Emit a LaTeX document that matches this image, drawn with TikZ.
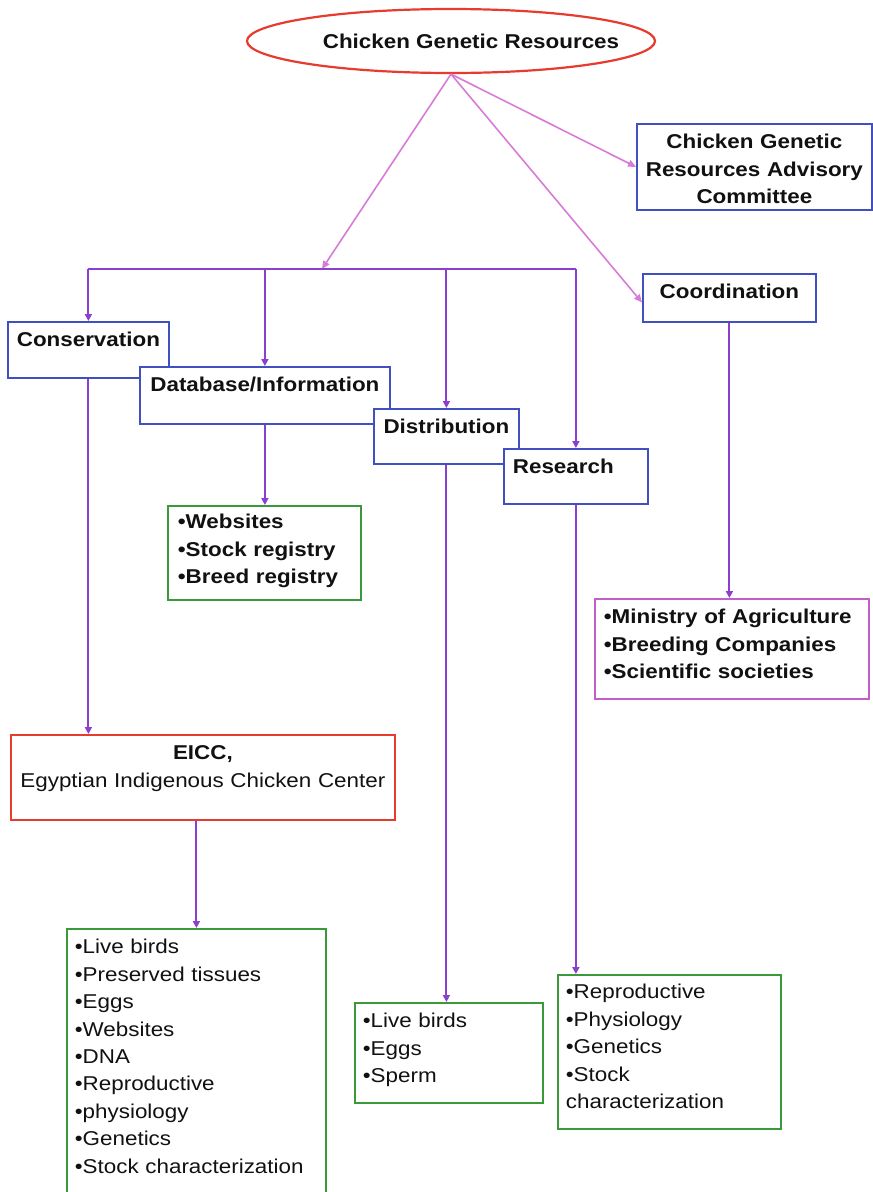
\documentclass[tikz,border=0pt]{standalone}
\usepackage{fontspec}
\setmainfont{Liberation Sans}[FakeStretch=1.12]
\usepackage{tikz}
\usetikzlibrary{
  arrows.meta,
  shapes.geometric
}
\definecolor{ink}{HTML}{111111}
\definecolor{rootred}{HTML}{E63B2E}
\definecolor{unitblue}{HTML}{4050C0}
\definecolor{listgreen}{HTML}{3A9A3A}
\definecolor{orchid}{HTML}{D77BD7}
\definecolor{violet}{HTML}{8B3FCF}
\definecolor{plum}{HTML}{C45CC9}
\newcommand{\boxfont}{\fontsize{20pt}{27.4pt}\selectfont}
\newcommand{\itm}{\textbullet}
\tikzset{
  spread/.style={
    -{Triangle[length=8pt,width=7pt]},
    line width=1.6pt,
    draw=orchid
  },
  branch/.style={
    line width=2pt,
    draw=violet
  },
  drop/.style={
    branch,
    -{Triangle[length=7pt,width=7pt]}
  },
  root/.style={
    ellipse,
    draw=rootred,
    line width=2.2pt,
    minimum width=408pt,
    minimum height=64pt,
    inner sep=0pt,
    text=ink,
    font=\boxfont\bfseries
  },
  cell/.style={
    draw,
    fill=white,
    line width=1.8pt,
    anchor=north west,
    inner ysep=0pt,
    inner xsep=4pt,
    text=ink,
    font=\boxfont
  },
  unit/.style={
    cell,
    draw=unitblue,
    font=\boxfont\bfseries,
    align=center,
    text height=25pt
  },
  items/.style={
    cell,
    draw=listgreen,
    inner xsep=8pt,
    align=left,
    text height=25pt
  }
}

\begin{document}
\begin{tikzpicture}[x=1pt, y=-1pt]
  \useasboundingbox (0,0) rectangle (873,1192);

  % top of the chart
  \node[root] (cgr) at (451,41) {\makebox[0pt]{\hspace*{40pt}Chicken Genetic Resources}};
  \node[unit, text width=227pt, text depth=61pt] (adv) at (636,123)
    {Chicken Genetic\\Resources Advisory\\Committee};
  \node[unit, text width=165pt, text depth=23pt] (coord) at (642,273) {Coordination};

  % the four units, each one lying over the one before
  \node[unit, text width=153pt, text depth=31pt] (cons) at (7,321) {Conservation};
  \node[unit, text width=246pt, inner xsep=2pt, text depth=32pt] (db) at (139,366) {Database/Information};
  \node[unit, text width=137pt, text depth=30pt] (dist) at (373,408) {Distribution};
  \node[unit, text width=126pt, inner xsep=9pt, align=left, text depth=30pt] (res) at (503,448) {Research};

  \node[items, font=\boxfont\bfseries, text width=173pt, inner xsep=10pt, text height=23pt, text depth=71pt] (web) at (167,505)
    {\itm Websites\\\itm Stock registry\\\itm Breed registry};
  \node[items, draw=plum, font=\boxfont\bfseries, text width=256pt, inner xsep=9pt, text depth=75pt] (min) at (594,598)
    {\itm Ministry of Agriculture\\\itm Breeding Companies\\\itm Scientific societies};
  \node[cell, draw=rootred, align=center, text width=376pt, text height=25pt, text depth=60pt] (eicc) at (10,734)
    {\textbf{EICC,}\\Egyptian Indigenous Chicken Center};

  % what each unit holds
  \node[items, text width=243pt, text depth=272pt] (conslist) at (66,928)
    {\itm Live birds\\\itm Preserved tissues\\\itm Eggs\\\itm Websites\\\itm DNA\\\itm Reproductive\\\itm physiology\\\itm Genetics\\\itm Stock characterization};
  \node[items, text width=172pt, text depth=75pt] (distlist) at (354,1002)
    {\itm Live birds\\\itm Eggs\\\itm Sperm};
  \node[items, text width=207pt, text height=24pt, text depth=130pt] (reslist) at (557,974)
    {\itm Reproductive\\\itm Physiology\\\itm Genetics\\\itm Stock\\characterization};

  % from the centre outwards
  \coordinate (hub) at (322,269);
  \draw[spread] (cgr.south) -- (hub);
  \draw[spread] (cgr.south) -- (adv.west);
  \draw[spread] (cgr.south) -- (coord.183);

  \draw[branch] (cons.north |- hub) -- (res.north |- hub);
  \foreach \n in {cons, db, dist, res}
    \draw[drop] (\n.north |- hub) -- (\n.north);

  \draw[drop] (cons.south) -- (cons.south |- eicc.north);
  \draw[drop] (conslist.north |- eicc.south) -- (conslist.north);
  \draw[drop] (db.south) -- (db.south |- web.north);
  \draw[drop] (dist.south) -- (dist.south |- distlist.north);
  \draw[drop] (res.south) -- (res.south |- reslist.north);
  \draw[drop] (coord.south) -- (coord.south |- min.north);
\end{tikzpicture}
\end{document}
